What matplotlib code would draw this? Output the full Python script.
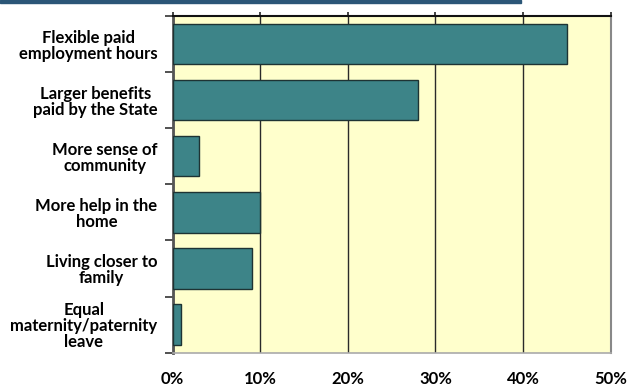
import matplotlib.pyplot as plt
import matplotlib.patches as mpatches
from matplotlib.ticker import FuncFormatter

# Reasons (top to bottom) and share of respondents (%)
categories = [
    "Flexible paid\nemployment hours",
    "Larger benefits\npaid by the State",
    "More sense of\ncommunity",
    "More help in the\nhome",
    "Living closer to\nfamily",
    "Equal\nmaternity/paternity\nleave",
]
values = [45, 28, 3, 10, 9, 1]
xticks = [0, 10, 20, 30, 40, 50]

plt.rcParams['font.family'] = ['Lato', 'DejaVu Sans']

fig = plt.figure(figsize=(6.29, 3.87), dpi=100)
ax = fig.add_axes([0.2746, 0.0886, 0.9706 - 0.2746, 0.9587 - 0.0886])

# dark strip at top of the slide
fig.patches.append(mpatches.Rectangle((0, 1 - 3 / 387), 521 / 629, 3 / 387,
                                      transform=fig.transFigure,
                                      color='#2b5677', zorder=0))

ax.set_facecolor('#ffffcc')
pos = list(range(len(categories)))
ax.barh(pos, values, height=0.72, color='#3d8488', edgecolor='#1e3333',
        linewidth=1.0, zorder=3)

ax.set_xlim(0, 50)
ax.set_ylim(len(categories) - 0.5, -0.5)
ax.set_xticks(xticks)
ax.xaxis.set_major_formatter(FuncFormatter(lambda v, p: f"{v:.0f}%"))
ax.grid(axis='x', color='#2a2a2a', linewidth=1.0, zorder=1)

# category boundaries as ticks on the left
ax.set_yticks([p + 0.5 for p in pos[:-1]] + [-0.5, len(categories) - 0.5])
ax.set_yticks(pos, minor=True)
ax.set_yticklabels(categories, minor=True, fontsize=12, fontweight='bold',
                   ha='right', ma='center', linespacing=1.0)
ax.tick_params(axis='y', which='major', left=True, length=6, width=1.2,
               labelleft=False, color='#333333')
ax.tick_params(axis='y', which='minor', left=False, length=0, pad=11)

ax.tick_params(axis='x', top=True, bottom=False, direction='out', length=3,
               width=1.2, labelbottom=True, labelsize=12, pad=10,
               color='#222222')
for lab in ax.get_xticklabels():
    lab.set_fontweight('bold')

ax.spines['top'].set_color('#111111')
ax.spines['top'].set_linewidth(1.5)
ax.spines['left'].set_color('#555555')
ax.spines['left'].set_linewidth(2.0)
ax.spines['right'].set_color('#888888')
ax.spines['right'].set_linewidth(1.5)
ax.spines['bottom'].set_color('#aaaaaa')
ax.spines['bottom'].set_linewidth(1.2)

fig.savefig('out.png', dpi=100)
